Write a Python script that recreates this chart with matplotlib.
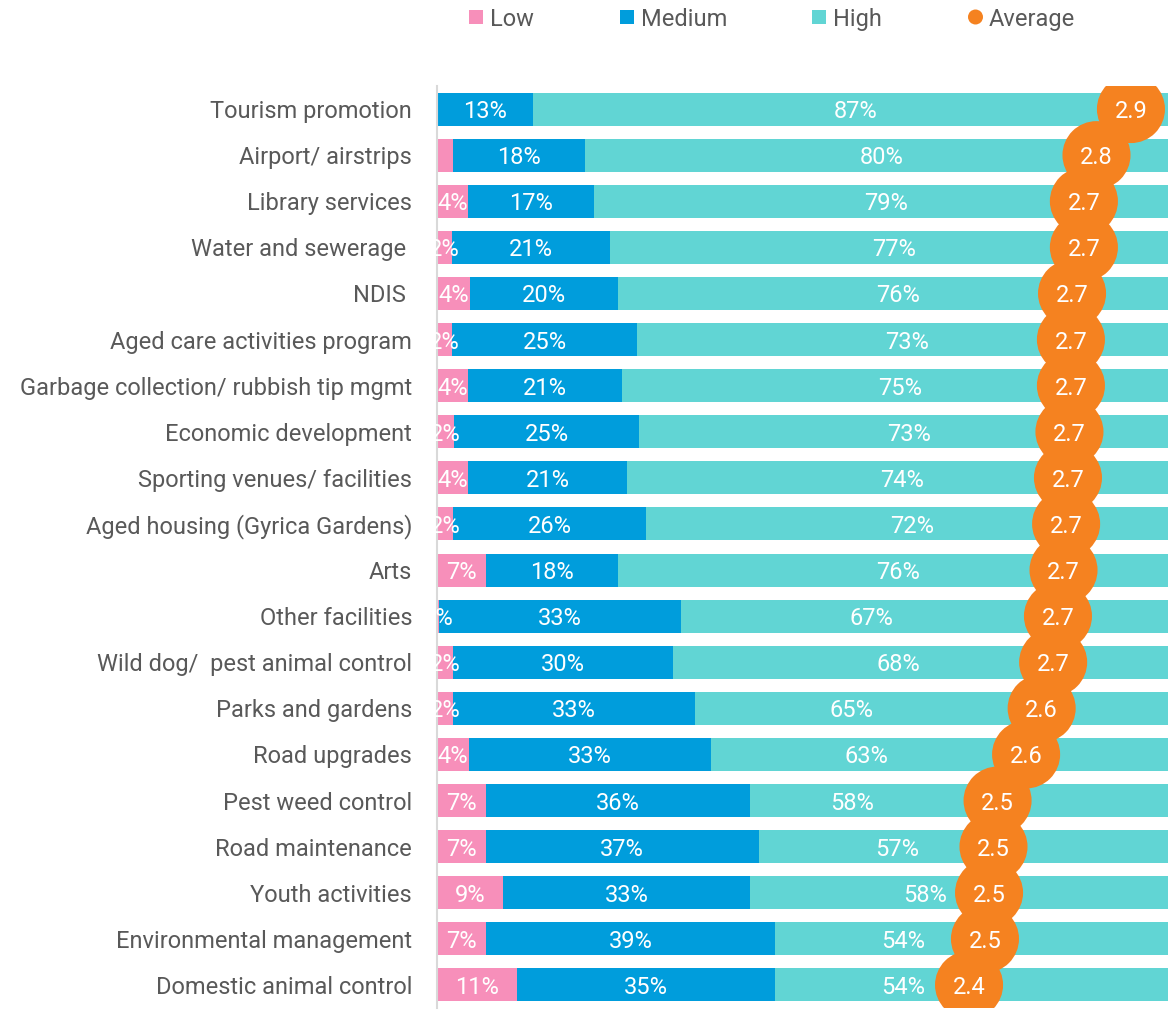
import matplotlib
matplotlib.use("Agg")
import matplotlib.pyplot as plt
from matplotlib.patches import Rectangle, Ellipse

plt.rcParams['font.family'] = ['Roboto', 'DejaVu Sans']

# Service areas, top to bottom
categories = [
    "Tourism promotion", "Airport/ airstrips", "Library services",
    "Water and sewerage ", "NDIS ", "Aged care activities program",
    "Garbage collection/ rubbish tip mgmt", "Economic development",
    "Sporting venues/ facilities", "Aged housing (Gyrica Gardens)", "Arts",
    "Other facilities", "Wild dog/  pest animal control", "Parks and gardens",
    "Road upgrades", "Pest weed control", "Road maintenance",
    "Youth activities", "Environmental management", "Domestic animal control",
]

# Share of responses (%) rating each service Low / Medium / High importance
low = [0.0, 2.2, 4.2, 2.0, 4.4, 2.0, 4.2, 2.3, 4.2, 2.2,
       6.6, 0.3, 2.2, 2.2, 4.3, 6.6, 6.6, 8.9, 6.6, 10.8]
medium = [13.0, 17.8, 17.0, 21.3, 20.0, 25.0, 20.8, 25.0, 21.4, 26.0,
          17.8, 32.6, 29.6, 32.6, 32.7, 35.6, 36.8, 33.3, 39.0, 34.8]
high = [87.0, 80.0, 78.8, 76.7, 75.6, 73.0, 75.0, 72.7, 74.4, 71.8,
        75.6, 67.1, 68.2, 65.2, 63.0, 57.8, 56.6, 57.8, 54.4, 54.4]

# Average rating (1 = Low, 2 = Medium, 3 = High)
average = [2.873, 2.780, 2.746, 2.746, 2.714, 2.711, 2.711, 2.707, 2.703, 2.698,
           2.691, 2.676, 2.663, 2.632, 2.590, 2.513, 2.502, 2.490, 2.479, 2.436]

# Rows whose Low share carries a data label
low_labelled = [False, False] + [True] * 18

# Where the High labels sit (in % of the bar); None keeps them centred,
# a number nudges them left of the average marker
high_label_at = [None] * 11 + [58.6, 62.2, 55.9, 57.9, 56.0, 62.1, 65.9, 62.9, 62.9]

C_LOW = "#F78FBA"
C_MED = "#009DDC"
C_HIGH = "#61D5D4"
C_AVG = "#F58220"
C_TEXT = "#595959"

W, H = 1168, 1022
fig = plt.figure(figsize=(W / 100, H / 100), dpi=100)
ax = fig.add_axes([437 / W, (H - 1008) / H, (1178 - 437) / W, (1008 - 86) / H])

y = list(range(len(categories)))
bar_h = 0.715
left_med = low
left_high = [a + b for a, b in zip(low, medium)]

ax.barh(y, low, height=bar_h, color=C_LOW, zorder=2)
ax.barh(y, medium, left=left_med, height=bar_h, color=C_MED, zorder=2)
ax.barh(y, high, left=left_high, height=bar_h, color=C_HIGH, zorder=2)

fs = 17
lab = dict(ha="center", va="center_baseline", color="white", fontsize=fs, zorder=3)
for i in y:
    if low[i] > 0 and low_labelled[i]:
        ax.text(low[i] / 2, i, f"{low[i]:.0f}%", **lab)
    ax.text(left_med[i] + medium[i] / 2, i, f"{medium[i]:.0f}%", **lab)
    hx = high_label_at[i] if high_label_at[i] is not None else left_high[i] + high[i] / 2
    ax.text(hx, i, f"{high[i]:.0f}%", **lab)

ax.set_xlim(0, 100)
ax.set_ylim(len(categories) - 0.5, -0.5)
ax.set_yticks(y)
ax.set_yticklabels(categories, fontsize=fs, color=C_TEXT)

# Average rating on its own 1-3 scale, drawn over the bars
ax2 = ax.twiny()
ax2.set_xlim(1, 3)
ax2.set_ylim(ax.get_ylim())
ax2.axis("off")
ax2.scatter(average, y, s=49 ** 2, color=C_AVG, edgecolors="none", zorder=4)
for i in y:
    ax2.text(average[i], i, f"{average[i]:.1f}", ha="center", va="center_baseline",
             color="white", fontsize=fs, zorder=5)

ax.tick_params(axis="y", length=0, pad=18)
ax.tick_params(axis="x", bottom=False, top=False, labelbottom=False, labeltop=False)
for s in ("top", "right", "bottom"):
    ax.spines[s].set_visible(False)
ax.spines["left"].set_color("#D9D9D9")
ax.spines["left"].set_linewidth(1.5)

# Legend along the top
def fx(px):
    return px / W

def fy(py):
    return 1 - py / H

legend_items = [("Low", C_LOW, 469, "box"), ("Medium", C_MED, 620, "box"),
                ("High", C_HIGH, 812, "box"), ("Average", C_AVG, 968, "dot")]
for label, color, x0, kind in legend_items:
    if kind == "box":
        fig.add_artist(Rectangle((fx(x0), fy(24)), 14 / W, 14 / H,
                                 transform=fig.transFigure, color=color, lw=0))
    else:
        fig.add_artist(Ellipse((fx(x0 + 7.5), fy(17)), 15 / W, 15 / H,
                               transform=fig.transFigure, color=color, lw=0))
    fig.text(fx(x0 + 21), fy(26), label, ha="left", va="baseline",
             fontsize=fs, color=C_TEXT)

fig.savefig("out.png", dpi=100)
